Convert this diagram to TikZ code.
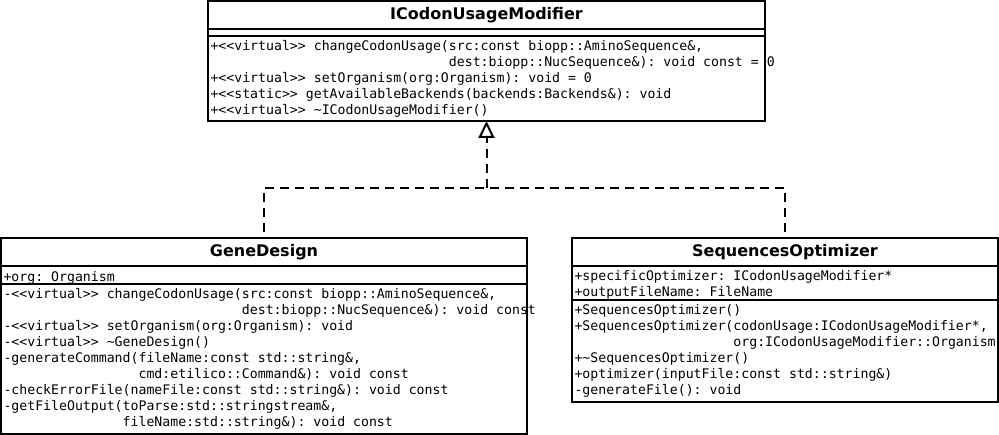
\documentclass[tikz,border=0pt]{standalone}
\usepackage{fontspec}
\setsansfont{DejaVu Sans}
\setmonofont{DejaVu Sans Mono}
\usetikzlibrary{arrows.meta,positioning}
\newcommand{\pad}[1]{\hspace*{#1\fontcharwd\font`\x}}

\begin{document}
\begin{tikzpicture}[x=1pt,y=-1pt,
  every node/.style={inner sep=0pt,outer sep=0pt},
  umlbox/.style={draw,line width=2pt,anchor=north west},
  classname/.style={umlbox,font=\fontsize{16}{19}\selectfont\sffamily\bfseries},
  members/.style={anchor=north west,align=left,font=\fontsize{13.2}{16}\selectfont\ttfamily,execute at begin node=\strut},
  realize/.style={line width=2pt,dash pattern=on 9pt off 6pt}]
\useasboundingbox (0,0) rectangle (999,435);

\node[classname,minimum width=557pt,minimum height=28pt] (imod) at (208,1) {ICodonUsageModifier};
\node[umlbox,minimum width=557pt,minimum height=7pt,below=0pt of imod.south west,anchor=north west] (imodAttr) {};
\node[umlbox,minimum width=557pt,minimum height=85pt,below=0pt of imodAttr.south west,anchor=north west] (imodOps) {};
\node[members,below right=4.5pt and 2.5pt of imodOps.north west] (imodOpsText) {+<<virtual>> changeCodonUsage(src:const biopp::AminoSequence\&,\\
\pad{30}dest:biopp::NucSequence\&): void const = 0\\
+<<virtual>> setOrganism(org:Organism): void = 0\\
+<<static>> getAvailableBackends(backends:Backends\&): void\\
+<<virtual>> \textasciitilde ICodonUsageModifier()};

\node[classname,minimum width=526pt,minimum height=28pt] (gd) at (1,238) {GeneDesign};
\node[umlbox,minimum width=526pt,minimum height=18pt,below=0pt of gd.south west,anchor=north west] (gdAttr) {};
\node[umlbox,minimum width=526pt,minimum height=150pt,below=0pt of gdAttr.south west,anchor=north west] (gdOps) {};
\node[members,below right=4.5pt and 2.5pt of gdAttr.north west] (gdAttrText) {+org: Organism};
\node[members,below right=4.5pt and 2.5pt of gdOps.north west] (gdOpsText) {-<<virtual>> changeCodonUsage(src:const biopp::AminoSequence\&,\\
\pad{30}dest:biopp::NucSequence\&): void const\\
-<<virtual>> setOrganism(org:Organism): void\\
-<<virtual>> \textasciitilde GeneDesign()\\
-generateCommand(fileName:const std::string\&,\\
\pad{17}cmd:etilico::Command\&): void const\\
-checkErrorFile(nameFile:const std::string\&): void const\\
-getFileOutput(toParse:std::stringstream\&,\\
\pad{15}fileName:std::string\&): void const};

\node[classname,minimum width=426pt,minimum height=28pt] (so) at (572,238) {SequencesOptimizer};
\node[umlbox,minimum width=426pt,minimum height=34pt,below=0pt of so.south west,anchor=north west] (soAttr) {};
\node[umlbox,minimum width=426pt,minimum height=102pt,below=0pt of soAttr.south west,anchor=north west] (soOps) {};
\node[members,below right=4.5pt and 2.5pt of soAttr.north west] (soAttrText) {+specificOptimizer: ICodonUsageModifier*\\
+outputFileName: FileName};
\node[members,below right=4.5pt and 2.5pt of soOps.north west] (soOpsText) {+SequencesOptimizer()\\
+SequencesOptimizer(codonUsage:ICodonUsageModifier*,\\
\pad{20}org:ICodonUsageModifier::Organism\\
+\textasciitilde SequencesOptimizer()\\
+optimizer(inputFile:const std::string\&)\\
-generateFile(): void};

\coordinate (junction) at (486.5,188);
\draw[realize,-{Triangle[open,length=17pt,width=16pt]}] (junction) -- (imodOps.south);
\draw[realize,dash phase=9pt] (gd.north) |- (junction);
\draw[realize,dash phase=9pt] (so.north) |- (junction);
\end{tikzpicture}
\end{document}
